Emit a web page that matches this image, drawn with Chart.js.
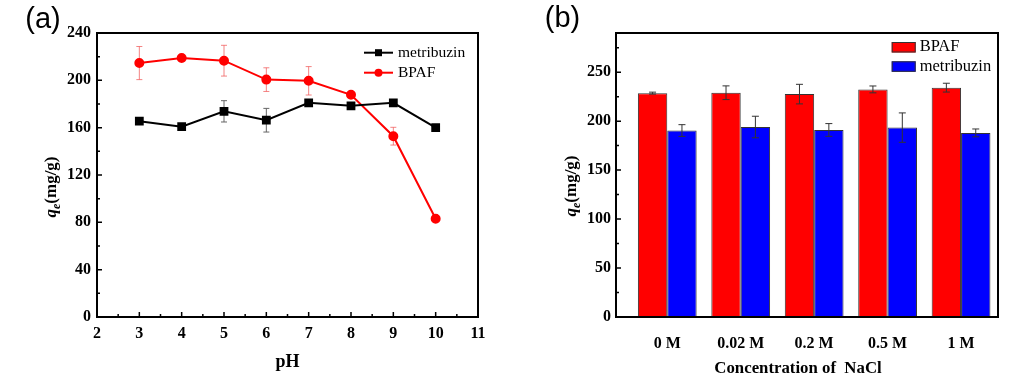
<!DOCTYPE html>
<html>
<head>
<meta charset="utf-8">
<script src="https://cdn.jsdelivr.net/npm/chart.js@4.4.1/dist/chart.umd.min.js"></script>
<style>
  body { margin: 0; background: #fff; width: 1010px; height: 384px; overflow: hidden; position: relative; }
  .panel { position: absolute; top: 0; width: 505px; height: 384px; }
</style>
</head>
<body>
<div class="panel" style="left:0"><canvas id="chart-ph" width="505" height="384"></canvas></div>
<div class="panel" style="left:505px"><canvas id="chart-nacl" width="505" height="384"></canvas></div>
<script>
// (a) effect of pH
const phValues = [3, 4, 5, 6, 7, 8, 9, 10];
const metribuzinPh = [165.5, 160.8, 173.8, 166.3, 181, 178.5, 181, 160];
const metribuzinPhErr = [1.5, 1.5, 9, 10, 2, 1.5, 1.5, 1.5];
const bpafPh = [214.6, 218.8, 216.6, 200.6, 199.6, 187.8, 152.8, 83];
const bpafPhErr = [14, 1.5, 13, 10, 12, 1.5, 7.5, 1.5];

// (b) effect of NaCl
const naclLabels = ['0 M', '0.02 M', '0.2 M', '0.5 M', '1 M'];
const bpafNacl = [228.6, 229, 227.6, 232.4, 234.2];
const bpafNaclErr = [1, 7, 10, 3.5, 4.5];
const metribuzinNacl = [190.4, 194, 191, 193.4, 188];
const metribuzinNaclErr = [6, 11, 6.5, 15, 4];

const SERIF = "'Liberation Serif', 'Times New Roman', serif";
Chart.defaults.font.family = SERIF;
Chart.defaults.color = '#000';

// frame round the plot area + inward major/minor ticks
function tickMarks(ctx, scale, area, vertical) {
  const vals = scale.ticks.map(t => t.value);
  const step = vals[1] - vals[0];
  const marks = vals.map(v => [v, 5]);
  for (let v = vals[0] + step / 2; v < scale.max; v += step) marks.push([v, 3]);
  ctx.beginPath();
  marks.forEach(([v, len]) => {
    const p = scale.getPixelForValue(v);
    if (vertical) { ctx.moveTo(area.left, p); ctx.lineTo(area.left + len, p); }
    else { ctx.moveTo(p, area.bottom); ctx.lineTo(p, area.bottom - len); }
  });
  ctx.stroke();
}

const frameTicks = {
  id: 'frameTicks',
  afterDraw(chart, args, opts) {
    const { ctx, chartArea: a } = chart;
    ctx.save();
    ctx.strokeStyle = '#000';
    ctx.lineWidth = 1.5;
    tickMarks(ctx, chart.scales.y, a, true);
    if (opts.xTicks) tickMarks(ctx, chart.scales.x, a, false);
    ctx.lineWidth = 2;
    ctx.strokeRect(a.left, a.top, a.right - a.left, a.bottom - a.top);
    ctx.restore();
  }
};

function drawErrors(chart, opts) {
  const ctx = chart.ctx;
  const y = chart.scales.y;
  ctx.save();
  ctx.lineWidth = 1;
  chart.data.datasets.forEach((ds, i) => {
    if (!ds.errors) return;
    ctx.strokeStyle = ds.errorColor;
    chart.getDatasetMeta(i).data.forEach((el, j) => {
      const v = ds.data[j].y, e = ds.errors[j];
      const t = y.getPixelForValue(v + e), b = y.getPixelForValue(v - e);
      ctx.beginPath();
      ctx.moveTo(el.x, t); ctx.lineTo(el.x, b);
      ctx.moveTo(el.x - opts.cap, t); ctx.lineTo(el.x + opts.cap, t);
      ctx.moveTo(el.x - opts.cap, b); ctx.lineTo(el.x + opts.cap, b);
      ctx.stroke();
    });
  });
  ctx.restore();
}

const errorBars = {
  id: 'errorBars',
  beforeDatasetsDraw(chart, args, opts) { if (opts.under) drawErrors(chart, opts); },
  afterDatasetsDraw(chart, args, opts) { if (!opts.under) drawErrors(chart, opts); }
};

// axis titles, panel letter and legend
function drawQe(ctx, x, y) {
  ctx.save();
  ctx.translate(x, y);
  ctx.rotate(-Math.PI / 2);
  ctx.textBaseline = 'middle';
  ctx.textAlign = 'left';
  const f1 = 'italic bold 17px ' + SERIF, f2 = 'italic bold 12px ' + SERIF, f3 = 'bold 17px ' + SERIF;
  ctx.font = f1; const w1 = ctx.measureText('q').width;
  ctx.font = f2; const w2 = ctx.measureText('e').width;
  ctx.font = f3; const w3 = ctx.measureText('(mg/g)').width;
  let x0 = -(w1 + w2 + w3) / 2;
  ctx.font = f1; ctx.fillText('q', x0, 0); x0 += w1;
  ctx.font = f2; ctx.fillText('e', x0, 5); x0 += w2;
  ctx.font = f3; ctx.fillText('(mg/g)', x0, 0);
  ctx.restore();
}

const decorations = {
  id: 'decorations',
  afterDraw(chart, args, opts) {
    const ctx = chart.ctx;
    ctx.save();
    ctx.fillStyle = '#000';
    ctx.textAlign = 'center';
    ctx.textBaseline = 'middle';
    ctx.font = "29px 'Liberation Sans', Arial, sans-serif";
    ctx.fillText(opts.letter, opts.letterX, opts.letterY);
    ctx.font = 'bold ' + opts.xTitleSize + 'px ' + SERIF;
    ctx.fillText(opts.xTitle, opts.xTitleX, opts.xTitleY);
    drawQe(ctx, opts.yTitleX, opts.yTitleY);

    const lg = opts.legend;
    ctx.textAlign = 'left';
    ctx.font = lg.size + 'px ' + SERIF;
    chart.data.datasets.forEach((ds, i) => {
      const ly = lg.y + i * lg.gap;
      if (lg.kind === 'line') {
        ctx.strokeStyle = ds.borderColor;
        ctx.lineWidth = 2;
        ctx.beginPath(); ctx.moveTo(lg.x, ly); ctx.lineTo(lg.x + 29, ly); ctx.stroke();
        ctx.fillStyle = ds.borderColor;
        const cx = lg.x + 14.5;
        if (ds.pointStyle === 'rect') ctx.fillRect(cx - 3.5, ly - 3.5, 7, 7);
        else { ctx.beginPath(); ctx.arc(cx, ly, 4, 0, Math.PI * 2); ctx.fill(); }
        ctx.fillStyle = '#000';
        ctx.fillText(ds.label, lg.x + 34, ly);
      } else {
        ctx.fillStyle = ds.backgroundColor;
        ctx.fillRect(lg.x, ly - 5, 24, 10.5);
        ctx.strokeStyle = '#333';
        ctx.lineWidth = 1;
        ctx.strokeRect(lg.x + 0.5, ly - 4.5, 23, 9.5);
        ctx.fillStyle = '#000';
        ctx.fillText(ds.label, lg.x + 28, ly);
      }
    });
    ctx.restore();
  }
};

const tickFont = size => ({ family: SERIF, size, weight: 'bold' });

new Chart(document.getElementById('chart-ph'), {
  type: 'line',
  data: {
    datasets: [
      {
        label: 'metribuzin',
        data: phValues.map((x, i) => ({ x, y: metribuzinPh[i] })),
        errors: metribuzinPhErr,
        errorColor: '#666',
        borderColor: '#000',
        backgroundColor: '#000',
        borderWidth: 2,
        pointStyle: 'rect',
        pointRadius: 4.8,
        tension: 0
      },
      {
        label: 'BPAF',
        data: phValues.map((x, i) => ({ x, y: bpafPh[i] })),
        errors: bpafPhErr,
        errorColor: 'rgba(240,90,90,0.75)',
        borderColor: '#ff0000',
        backgroundColor: '#ff0000',
        borderWidth: 2,
        pointStyle: 'circle',
        pointRadius: 4,
        tension: 0
      }
    ]
  },
  options: {
    responsive: false,
    animation: false,
    layout: { padding: { top: 33, right: 27, left: 0, bottom: 0 } },
    scales: {
      x: {
        type: 'linear', min: 2, max: 11, offset: false,
        grid: { display: false, drawTicks: false },
        border: { display: false },
        ticks: { stepSize: 1, padding: 7, font: tickFont(16), maxRotation: 0 },
        afterFit: s => { s.height = 67; }
      },
      y: {
        min: 0, max: 240,
        grid: { display: false, drawTicks: false },
        border: { display: false },
        ticks: { stepSize: 40, padding: 6, font: tickFont(16) },
        afterFit: s => { s.width = 97; }
      }
    },
    plugins: {
      legend: { display: false },
      tooltip: { enabled: false },
      errorBars: { under: true, cap: 3 },
      frameTicks: { xTicks: true },
      decorations: {
        letter: '(a)', letterX: 43, letterY: 20,
        xTitle: 'pH', xTitleSize: 18, xTitleX: 287.5, xTitleY: 362,
        yTitleX: 52, yTitleY: 187,
        legend: { kind: 'line', x: 364, y: 52.7, gap: 20, size: 15.5 }
      }
    }
  },
  plugins: [errorBars, frameTicks, decorations]
});

new Chart(document.getElementById('chart-nacl'), {
  type: 'bar',
  data: {
    datasets: [
      {
        label: 'BPAF',
        data: naclLabels.map((_, i) => ({ x: i + 1, y: bpafNacl[i] })),
        errors: bpafNaclErr,
        errorColor: '#333',
        backgroundColor: '#ff0000',
        borderColor: '#333',
        borderWidth: 1
      },
      {
        label: 'metribuzin',
        data: naclLabels.map((_, i) => ({ x: i + 1, y: metribuzinNacl[i] })),
        errors: metribuzinNaclErr,
        errorColor: '#333',
        backgroundColor: '#0000ff',
        borderColor: '#333',
        borderWidth: 1
      }
    ]
  },
  options: {
    responsive: false,
    animation: false,
    categoryPercentage: 0.8,
    barPercentage: 1,
    layout: { padding: { top: 33, right: 12, left: 0, bottom: 0 } },
    scales: {
      x: {
        type: 'linear', min: 0.302, max: 5.503, offset: false,
        grid: { display: false, drawTicks: false },
        border: { display: false },
        ticks: { padding: 17, font: tickFont(16), maxRotation: 0, callback: (v, i) => naclLabels[i] },
        afterBuildTicks: s => { s.ticks = naclLabels.map((_, i) => ({ value: i + 1 })); },
        afterFit: s => { s.height = 67; }
      },
      y: {
        min: 0, max: 290,
        grid: { display: false, drawTicks: false },
        border: { display: false },
        ticks: { stepSize: 50, padding: 5, includeBounds: false, font: tickFont(16) },
        afterFit: s => { s.width = 111; }
      }
    },
    plugins: {
      legend: { display: false },
      tooltip: { enabled: false },
      errorBars: { under: false, cap: 3.5 },
      frameTicks: { xTicks: false },
      decorations: {
        letter: '(b)', letterX: 57.5, letterY: 19,
        xTitle: 'Concentration of  NaCl', xTitleSize: 16.8, xTitleX: 293, xTitleY: 369,
        yTitleX: 66.7, yTitleY: 186,
        legend: { kind: 'box', x: 386.7, y: 47, gap: 19.3, size: 16.5 }
      }
    }
  },
  plugins: [errorBars, frameTicks, decorations]
});
</script>
</body>
</html>
